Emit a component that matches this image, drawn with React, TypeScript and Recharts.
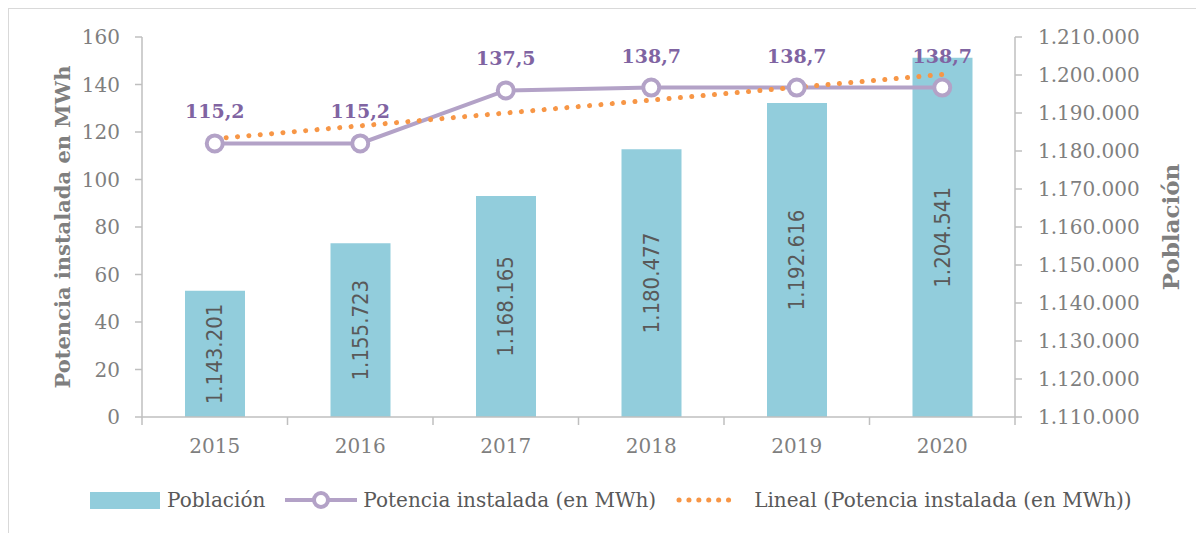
import {
  ComposedChart,
  Bar,
  Line,
  XAxis,
  YAxis,
  Legend,
  LabelList,
} from "recharts";

const years = ["2015", "2016", "2017", "2018", "2019", "2020"];
const poblacion = [1143201, 1155723, 1168165, 1180477, 1192616, 1204541];
const potencia = [115.2, 115.2, 137.5, 138.7, 138.7, 138.7];
// linear trend
const lineal = [117.2, 122.6, 128.0, 133.4, 138.8, 144.2];
const leftTicks = [0, 20, 40, 60, 80, 100, 120, 140, 160];
const rightTicks = [
  1110000, 1120000, 1130000, 1140000, 1150000, 1160000, 1170000, 1180000,
  1190000, 1200000, 1210000,
];

const serif = "'DejaVu Serif', serif";
const gray = "#7F7F7F";
const axisColor = "#BFBFBF";
const barColor = "#92CDDC";
const lineColor = "#B3A2C7";
const labelColor = "#8064A2";
const trendColor = "#F79646";

const fmtDots = (v: number) =>
  String(v).replace(/\B(?=(\d{3})+(?!\d))/g, ".");

const halfBand = 72.75;

const XTick = (props: any) => {
  const { x, y, payload, index } = props;
  return (
    <g>
      <line x1={x - halfBand} x2={x - halfBand} y1={y} y2={y + 8} stroke={axisColor} strokeWidth={1.5} />
      {index === years.length - 1 && (
        <line x1={x + halfBand} x2={x + halfBand} y1={y} y2={y + 8} stroke={axisColor} strokeWidth={1.5} />
      )}
      <text x={x} y={y + 36} textAnchor="middle" fill={gray} fontSize={20} fontFamily={serif}>
        {payload.value}
      </text>
    </g>
  );
};

const BarLabel = (props: any) => {
  const { x, y, width, height, value } = props;
  const cx = x + width / 2;
  const cy = y + height / 2;
  return (
    <text
      x={cx}
      y={cy}
      transform={`rotate(-90, ${cx}, ${cy})`}
      textAnchor="middle"
      dominantBaseline="central"
      fill="#595959"
      fontSize={22}
      fontFamily="'DejaVu Sans Condensed', 'DejaVu Sans', sans-serif"
      style={{ fontStretch: "condensed" }}
    >
      {fmtDots(value)}
    </text>
  );
};

const LegendContent = () => (
  <div
    style={{
      display: "flex",
      alignItems: "center",
      fontFamily: serif,
      fontSize: 20,
      color: "#595959",
      paddingTop: 11,
      paddingLeft: 81,
    }}
  >
    <svg width={70} height={20} style={{ marginRight: 7 }}>
      <rect x={0} y={2} width={70} height={17} fill={barColor} />
    </svg>
    <span style={{ marginRight: 20 }}>Población</span>
    <svg width={72} height={24} style={{ marginRight: 6 }}>
      <line x1={0} x2={72} y1={12} y2={12} stroke={lineColor} strokeWidth={4} />
      <circle cx={36} cy={12} r={7} fill="#fff" stroke={lineColor} strokeWidth={4} />
    </svg>
    <span style={{ marginRight: 20 }}>Potencia instalada (en MWh)</span>
    <svg width={64} height={20} style={{ marginRight: 14 }}>
      <line x1={3} x2={62} y1={10} y2={10} stroke={trendColor} strokeWidth={5} strokeDasharray="0.1 9.8" strokeLinecap="round" />
    </svg>
    <span>Lineal (Potencia instalada (en MWh))</span>
  </div>
);

const data = years.map((year, i) => ({
  year,
  poblacion: poblacion[i],
  potencia: potencia[i],
  lineal: lineal[i],
}));

export default function App() {
  return (
    <div
      style={{
        borderTop: "1.5px solid #D9D9D9",
        borderLeft: "1.5px solid #D9D9D9",
        width: 1196,
        height: 525,
        boxSizing: "border-box",
      }}
    >
      <ComposedChart
        width={1194}
        height={523}
        data={data}
        margin={{ top: 28, right: 0, left: 0, bottom: 5 }}
      >
        <XAxis
          dataKey="year"
          xAxisId="x"
          height={60}
          tickSize={0}
          tickMargin={0}
          tickLine={false}
          stroke={axisColor}
          strokeWidth={1.5}
          tick={<XTick />}
        />
        <YAxis
          yAxisId="left"
          width={133}
          domain={[0, 160]}
          ticks={leftTicks}
          interval={0}
          tickSize={7}
          tickMargin={15}
          stroke={axisColor}
          strokeWidth={1.5}
          tick={{ fill: gray, fontSize: 20, fontFamily: serif }}
          label={{
            value: "Potencia instalada en MWh",
            angle: -90,
            position: "center",
            dx: -13,
            fill: gray,
            fontSize: 21,
            fontWeight: "bold",
            fontFamily: serif,
          }}
        />
        <YAxis
          yAxisId="right"
          orientation="right"
          width={188}
          domain={[1110000, 1210000]}
          ticks={rightTicks}
          interval={0}
          tickSize={7}
          tickMargin={16}
          stroke={axisColor}
          strokeWidth={1.5}
          tickFormatter={fmtDots}
          tick={{ fill: gray, fontSize: 20, fontFamily: serif }}
          label={{
            value: "Población",
            angle: -90,
            position: "center",
            dx: 62,
            fill: gray,
            fontSize: 23,
            fontWeight: "bold",
            fontFamily: serif,
          }}
        />
        <Legend verticalAlign="bottom" height={50} content={<LegendContent />} />
        <Bar
          dataKey="poblacion"
          xAxisId="x"
          yAxisId="right"
          fill={barColor}
          barSize={60}
          isAnimationActive={false}
        >
          <LabelList dataKey="poblacion" content={<BarLabel />} />
        </Bar>
        <Line
          dataKey="potencia"
          xAxisId="x"
          yAxisId="left"
          stroke={lineColor}
          strokeWidth={4}
          dot={{ r: 8, fill: "#fff", stroke: lineColor, strokeWidth: 4 }}
          activeDot={false}
          isAnimationActive={false}
        >
          <LabelList
            dataKey="potencia"
            position="top"
            offset={25}
            fill={labelColor}
            fontSize={19}
            fontWeight="bold"
            fontFamily={serif}
            formatter={(v: any) => Number(v).toFixed(1).replace(".", ",")}
          />
        </Line>
        <Line
          dataKey="lineal"
          xAxisId="x"
          yAxisId="left"
          stroke={trendColor}
          strokeWidth={5}
          strokeDasharray="0.1 11.3"
          strokeLinecap="round"
          dot={false}
          activeDot={false}
          isAnimationActive={false}
        />
      </ComposedChart>
    </div>
  );
}
